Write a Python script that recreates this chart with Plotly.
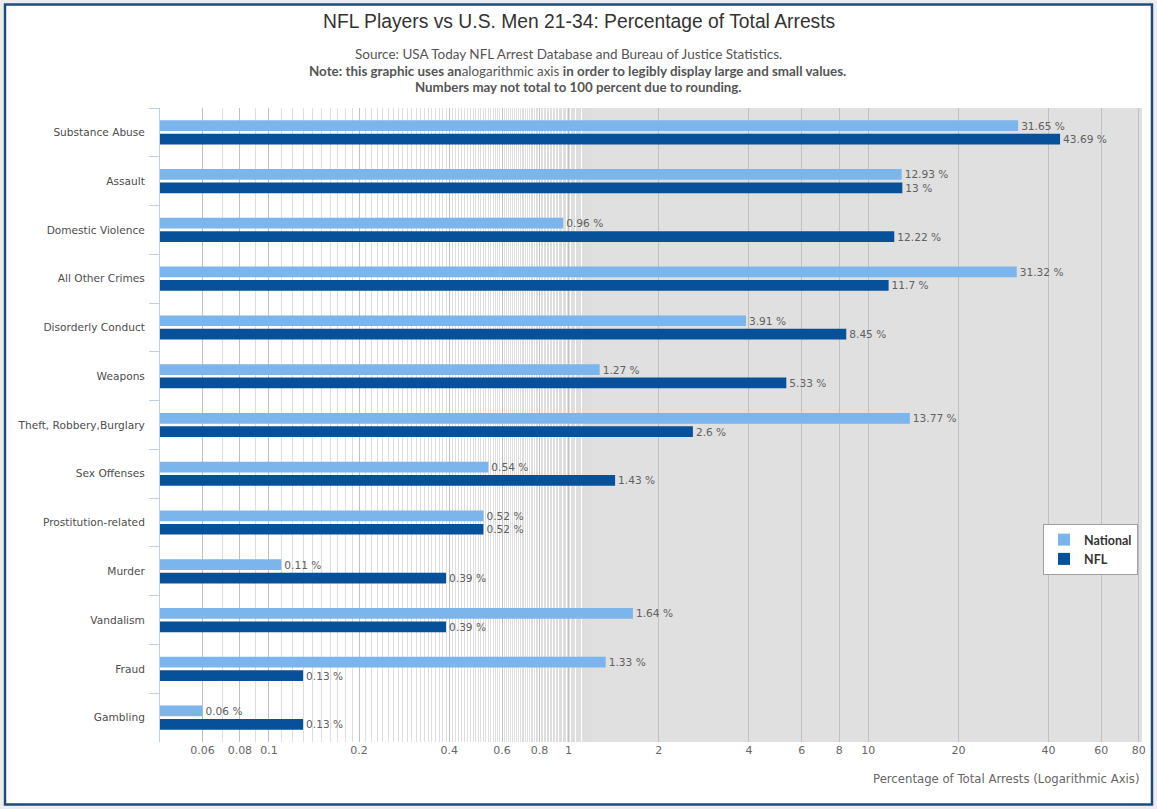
import numpy as np
import plotly.graph_objects as go

categories = ["Substance Abuse", "Assault", "Domestic Violence", "All Other Crimes",
              "Disorderly Conduct", "Weapons", "Theft, Robbery,Burglary", "Sex Offenses",
              "Prostitution-related", "Murder", "Vandalism", "Fraud", "Gambling"]
national = [31.65, 12.93, 0.96, 31.32, 3.91, 1.27, 13.77, 0.54, 0.52, 0.11, 1.64, 1.33, 0.06]
nfl = [43.69, 13, 12.22, 11.7, 8.45, 5.33, 2.6, 1.43, 0.52, 0.39, 0.39, 0.13, 0.13]
tick_vals = [0.06, 0.08, 0.1, 0.2, 0.4, 0.6, 0.8, 1, 2, 4, 6, 8, 10, 20, 40, 60, 80]
tick_text = ["0.06", "0.08", "0.1", "0.2", "0.4", "0.6", "0.8", "1", "2", "4", "6", "8",
             "10", "20", "40", "60", "80"]

W, H = 1157, 809
L, R, T, B = 160, 15, 108, 67
pw, ph = W - L - R, H - T - B

def px_x(p):
    return (p - L) / pw

def px_y(p):
    return (H - B - p) / ph

FONT = "DejaVu Sans"
SUB = "Lato"

fig = go.Figure()
fig.add_trace(go.Bar(
    y=categories, x=national, name="National", orientation="h",
    marker=dict(color="#7cb5ec", line=dict(width=0)),
    texttemplate="%{x} %", textposition="outside", cliponaxis=False,
    constraintext="none",
    textfont=dict(family=FONT, size=10.6, color="#606060"),
))
fig.add_trace(go.Bar(
    y=categories, x=nfl, name="NFL", orientation="h",
    marker=dict(color="#07519b", line=dict(width=0)),
    texttemplate="%{x} %", textposition="outside", cliponaxis=False,
    constraintext="none",
    textfont=dict(family=FONT, size=10.6, color="#606060"),
))

minor_vals = [v for v in np.round(np.arange(0.06, 1.2, 0.01), 2) if v not in tick_vals]

fig.update_layout(
    width=W, height=H,
    margin=dict(l=L, r=R, t=T, b=B, pad=0),
    paper_bgcolor="white",
    plot_bgcolor="#e0e0e0",
    barmode="group", bargap=0.45, bargroupgap=0.2,
    font=dict(family=FONT, size=11, color="#333333"),
    showlegend=True,
    legend=dict(
        x=px_x(1138), xanchor="right", y=px_y(524), yanchor="top",
        bgcolor="white", bordercolor="#a0a0a0", borderwidth=1,
        font=dict(family=SUB, size=12.5, color="#333333", weight="bold"),
        traceorder="normal", tracegroupgap=0, itemwidth=30,
    ),
    xaxis=dict(
        type="log",
        range=[np.log10(0.0433), np.log10(82)],
        tickmode="array", tickvals=tick_vals, ticktext=tick_text,
        showgrid=True, gridcolor="#c0c0c0", gridwidth=1,
        ticks="", showline=False, zeroline=False,
        tickfont=dict(family=FONT, size=11, color="#666666"),
        minor=dict(tickmode="array", tickvals=minor_vals, showgrid=True,
                   gridcolor="#dedede", gridwidth=1, ticks=""),
    ),
    yaxis=dict(
        type="category", autorange="reversed",
        tickson="boundaries", ticks="outside", ticklen=10, tickcolor="#c0d0e0",
        showline=True, linecolor="#c0d0e0", linewidth=1,
        showgrid=False, zeroline=False,
        ticklabelstandoff=12,
        tickfont=dict(family=FONT, size=10.6, color="#4d4d4d"),
    ),
)

shapes = [
    dict(type="rect", xref="x", yref="paper", x0=0.0433, x1=1.12, y0=0, y1=1,
         fillcolor="white", line=dict(width=0), layer="below"),
    dict(type="rect", xref="paper", yref="paper",
         x0=px_x(1.5), x1=px_x(W - 1.5), y0=px_y(H - 1.5), y1=px_y(1.5),
         line=dict(color="#ececec", width=4), fillcolor="rgba(0,0,0,0)", layer="above"),
    dict(type="rect", xref="paper", yref="paper",
         x0=px_x(5), x1=px_x(W - 5), y0=px_y(H - 4.5), y1=px_y(4.5),
         line=dict(color="#1f4a7a", width=2.5), fillcolor="rgba(0,0,0,0)", layer="above"),
]
fig.update_layout(shapes=shapes)

annotations = [
    dict(text="NFL Players vs U.S. Men 21-34: Percentage of Total Arrests",
         x=px_x(579), y=px_y(22), font=dict(family="Liberation Sans", size=19.3, color="#333333")),
    dict(text="Source: USA Today NFL Arrest Database and Bureau of Justice Statistics.",
         x=px_x(568), y=px_y(54), font=dict(family=SUB, size=13.5, color="#555555")),
    dict(text="<b>Note: this graphic uses an</b>alogarithmic axis <b>in order to legibly display large and small values.</b>",
         x=px_x(577), y=px_y(71), font=dict(family=SUB, size=13.4, color="#555555")),
    dict(text="<b>Numbers may not total to 100 percent due to rounding.</b>",
         x=px_x(578), y=px_y(87), font=dict(family=SUB, size=13.3, color="#555555")),
    dict(text="Percentage of Total Arrests (Logarithmic Axis)",
         x=px_x(1141), y=px_y(779), xanchor="right",
         font=dict(family=FONT, size=11.7, color="#666666")),
]
for a in annotations:
    a.setdefault("xanchor", "center")
    a.update(xref="paper", yref="paper", yanchor="middle", showarrow=False)
fig.update_layout(annotations=annotations)

fig.write_html("out.html", config={"displayModeBar": False},
               post_script="document.body.style.margin='0';document.body.style.overflow='hidden';")
